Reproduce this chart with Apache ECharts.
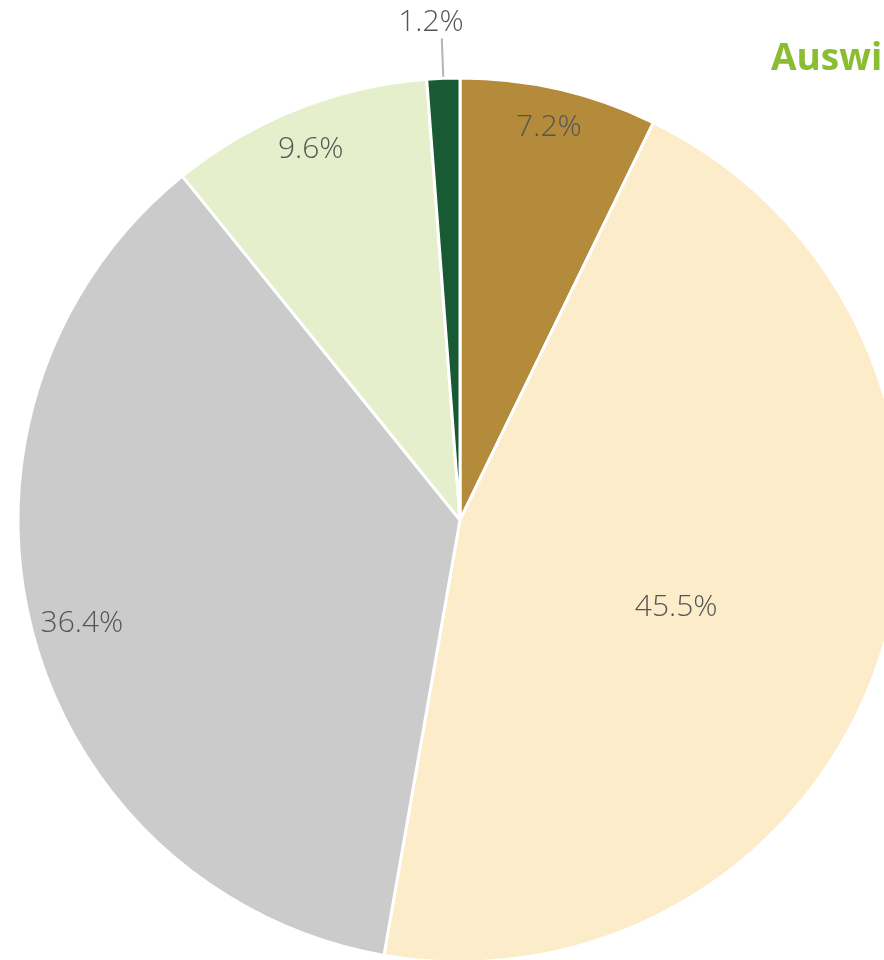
<!DOCTYPE html>
<html>
<head>
<title>Kreisdiagramm</title>
<meta charset="UTF-8">
<script src="https://cdn.jsdelivr.net/npm/echarts@6/dist/echarts.min.js"></script>
<style>
html, body { margin: 0; padding: 0; background: #fff; overflow: hidden; }
#chart-container { width: 884px; height: 960px; }
</style>
</head>
<body>
<div id="chart-container"></div>
<script>
// Daten
var titleText = 'Auswirkungen';
var sliceNames = ['A', 'B', 'C', 'D', 'E'];
var sliceValues = [7.2, 45.5, 36.4, 9.6, 1.2];
var sliceColors = ['#b38b3b', '#fcecca', '#cbcbcb', '#e6efcc', '#175a34'];

var myChart = echarts.init(document.getElementById('chart-container'));

var labelFont = {
  color: '#555555',
  fontSize: 30,
  fontFamily: 'Open Sans',
  fontWeight: 300
};

// Hauptkreis, Beschriftung nur bei 45.5 (Mitte)
var mainData = sliceValues.map(function (v, i) {
  return {
    name: sliceNames[i],
    value: v,
    itemStyle: { color: sliceColors[i] },
    label: { show: i === 1, offset: [3, 19] }
  };
});

// unsichtbarer Ring für die äußeren Beschriftungen
var ringOffsets = [[-2, 2], null, [14, 2], [0, 6], null];
var ringData = sliceValues.map(function (v, i) {
  var item = { name: sliceNames[i], value: v, label: { show: i !== 1, offset: ringOffsets[i] || [0, 0] } };
  if (i === 4) {
    item.label = { show: true, position: 'outside', offset: [27, -16] };
    item.labelLine = { show: true, length: 40, length2: 0, lineStyle: { color: '#b4b4b4', width: 2 } };
  }
  return item;
});

var option = {
  animation: false,
  title: {
    text: titleText,
    left: 766,
    top: 36,
    textStyle: { color: '#8bbd33', fontSize: 37, fontWeight: 'bold', fontFamily: 'Open Sans' }
  },
  series: [{
    type: 'pie',
    center: [460, 520],
    radius: [0, 442],
    startAngle: 90,
    clockwise: true,
    silent: true,
    itemStyle: { borderColor: '#fff', borderWidth: 3 },
    label: Object.assign({ position: 'inside', formatter: '{c}%' }, labelFont),
    labelLine: { show: false },
    data: mainData
  }, {
    type: 'pie',
    center: [460, 520],
    radius: [362, 442],
    startAngle: 90,
    clockwise: true,
    silent: true,
    itemStyle: { color: 'rgba(0,0,0,0)', borderWidth: 0 },
    label: Object.assign({ position: 'inside', formatter: '{c}%' }, labelFont),
    labelLine: { show: false },
    data: ringData
  }]
};

myChart.setOption(option);
</script>
</body>
</html>
